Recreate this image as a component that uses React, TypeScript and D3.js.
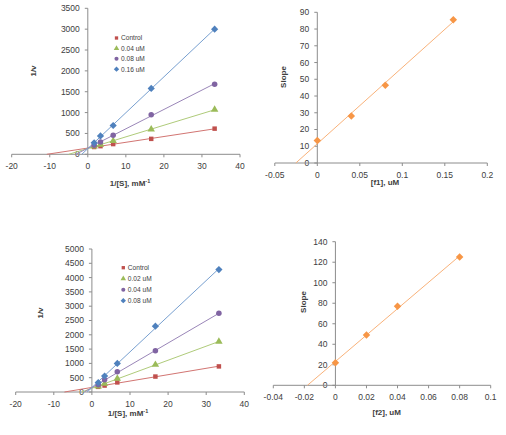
import React from "react";
import * as d3 from "d3";

// ---------- data ----------
const invS = [1.667, 3.333, 6.667, 16.667, 33.333];

const namesA = ["Control", "0.04 uM", "0.08 uM", "0.16 uM"];
const controlA = [175, 195, 245, 370, 615];
const f1_004 = [190, 235, 320, 600, 1070];
const f1_008 = [215, 295, 455, 950, 1680];
const f1_016 = [275, 440, 690, 1580, 3000];

const namesC = ["Control", "0.02 uM", "0.04 uM", "0.08 uM"];
const controlC = [180, 225, 335, 540, 895];
const f2_002 = [200, 290, 470, 955, 1760];
const f2_004 = [250, 430, 705, 1445, 2750];
const f2_008 = [330, 560, 1000, 2300, 4280];

const f1Conc = [0, 0.04, 0.08, 0.16];
const f1Slope = [13.5, 28, 46.5, 85.5];
const f2Conc = [0, 0.02, 0.04, 0.08];
const f2Slope = [22, 49, 77, 125];

const ticksLB = [-20, -10, 0, 10, 20, 30, 40];
const ticksYA = d3.range(0, 3501, 500);
const ticksYC = d3.range(0, 5001, 500);
const ticksXB = [-0.05, 0, 0.05, 0.1, 0.15, 0.2];
const ticksYB = d3.range(0, 91, 10);
const ticksXD = [-0.04, -0.02, 0, 0.02, 0.04, 0.06, 0.08, 0.1];
const ticksYD = d3.range(0, 141, 20);

// ---------- styles ----------
const FONT = "'Liberation Sans', Arial, sans-serif";
const TXT = "#404040";
const AXIS = "#8c8c8c";
type Mark = { color: string; line: string; sym: d3.SymbolType; size: number; rot: number };
const marks: Mark[] = [
  { color: "#C0504D", line: "#D27572", sym: d3.symbolSquare, size: 20, rot: 0 },
  { color: "#9BBB59", line: "#AFCB7A", sym: d3.symbolTriangle, size: 24, rot: 0 },
  { color: "#8064A2", line: "#9A86B8", sym: d3.symbolCircle, size: 24, rot: 0 },
  { color: "#4F81BD", line: "#78A0D0", sym: d3.symbolSquare, size: 26, rot: 45 },
];
const ORANGE: Mark = { color: "#F79646", line: "#F9B27A", sym: d3.symbolSquare, size: 28, rot: 45 };

function linreg(xs: number[], ys: number[]) {
  const mx = d3.mean(xs)!;
  const my = d3.mean(ys)!;
  let sxy = 0, sxx = 0;
  xs.forEach((x, i) => {
    sxy += (x - mx) * (ys[i] - my);
    sxx += (x - mx) * (x - mx);
  });
  const slope = sxy / sxx;
  return { slope, intercept: my - slope * mx };
}

const fmt = (v: number) => String(+v.toFixed(3));

type Series = { name?: string; xs: number[]; ys: number[]; style: Mark };

function Panel(props: {
  xDom: [number, number];
  xRange: [number, number];
  yDom: [number, number];
  yRange: [number, number];
  xTicks: number[];
  yTicks: number[];
  series: Series[];
  xTitle: React.ReactNode;
  xTitlePos: [number, number];
  yTitle: string;
  yTitlePos: [number, number];
  legend?: { x: number; y: number; dy: number };
}) {
  const x = d3.scaleLinear().domain(props.xDom).range(props.xRange);
  const y = d3.scaleLinear().domain(props.yDom).range(props.yRange);
  const x0 = x(0);
  const y0 = y(0);
  return (
    <g fontFamily={FONT}>
      <line x1={x0} x2={x0} y1={y(props.yDom[1])} y2={y0} stroke={AXIS} strokeWidth={1} />
      {props.yTicks.map((t) => (
        <g key={"y" + t}>
          <line x1={x0 - 3} x2={x0} y1={y(t)} y2={y(t)} stroke={AXIS} />
          <text x={x0 - 8} y={y(t)} dy="0.35em" textAnchor="end" fontSize={8.5} fill={TXT}>
            {fmt(t)}
          </text>
        </g>
      ))}
      <line x1={x(props.xDom[0])} x2={x(props.xDom[1])} y1={y0} y2={y0} stroke={AXIS} />
      {props.xTicks.map((t) => (
        <g key={"x" + t}>
          <line x1={x(t)} x2={x(t)} y1={y0} y2={y0 + 3} stroke={AXIS} />
          <text x={x(t)} y={y0 + 14.5} textAnchor="middle" fontSize={8.5} fill={TXT}>
            {fmt(t)}
          </text>
        </g>
      ))}
      {props.series.map((s, i) => {
        const { slope, intercept } = linreg(s.xs, s.ys);
        const xStart = Math.max(-intercept / slope, props.xDom[0]);
        const xEnd = s.xs[s.xs.length - 1];
        return (
          <line
            key={"l" + i}
            x1={x(xStart)}
            y1={y(slope * xStart + intercept)}
            x2={x(xEnd)}
            y2={y(slope * xEnd + intercept)}
            stroke={s.style.line}
            strokeWidth={1}
          />
        );
      })}
      {props.series.map((s, i) => {
        const path = d3.symbol().type(s.style.sym).size(s.style.size)()!;
        return (
          <g key={"m" + i}>
            {s.xs.map((xv, j) => (
              <path
                key={j}
                d={path}
                transform={`translate(${x(xv)},${y(s.ys[j])}) rotate(${s.style.rot})`}
                fill={s.style.color}
              />
            ))}
          </g>
        );
      })}
      {props.legend &&
        props.series.map((s, i) => {
          const path = d3.symbol().type(s.style.sym).size(s.style.size * 0.55)()!;
          const ly = props.legend!.y + i * props.legend!.dy;
          return (
            <g key={"lg" + i}>
              <path
                d={path}
                transform={`translate(${props.legend!.x},${ly}) rotate(${s.style.rot})`}
                fill={s.style.color}
              />
              <text x={props.legend!.x + 4.5} y={ly} dy="0.35em" fontSize={6.6} fill={TXT}>
                {s.name}
              </text>
            </g>
          );
        })}
      <text
        x={props.xTitlePos[0]}
        y={props.xTitlePos[1]}
        textAnchor="middle"
        fontSize={8}
        fontWeight="bold"
        fill={TXT}
      >
        {props.xTitle}
      </text>
      <text
        transform={`translate(${props.yTitlePos[0]},${props.yTitlePos[1]}) rotate(-90)`}
        textAnchor="middle"
        dy="0.35em"
        fontSize={8}
        fontWeight="bold"
        fill={TXT}
      >
        {props.yTitle}
      </text>
    </g>
  );
}

const sTitle = (
  <>
    1/[S], mM
    <tspan fontSize={5.5} dy={-3}>
      -1
    </tspan>
  </>
);

export default function App() {
  const seriesA: Series[] = [controlA, f1_004, f1_008, f1_016].map((ys, i) => ({
    name: namesA[i],
    xs: invS,
    ys,
    style: marks[i],
  }));
  const seriesC: Series[] = [controlC, f2_002, f2_004, f2_008].map((ys, i) => ({
    name: namesC[i],
    xs: invS,
    ys,
    style: marks[i],
  }));
  return (
    <svg
      width={506}
      height={435}
      style={{ position: "absolute", left: 0, top: 0, background: "#fff" }}
    >
      <Panel
        xDom={[-20, 40]}
        xRange={[11.7, 240]}
        yDom={[0, 3500]}
        yRange={[154.3, 8.3]}
        xTicks={ticksLB}
        yTicks={ticksYA}
        series={seriesA}
        xTitle={sTitle}
        xTitlePos={[130, 186]}
        yTitle="1/v"
        yTitlePos={[33, 71]}
        legend={{ x: 116.5, y: 38, dy: 10.4 }}
      />
      <Panel
        xDom={[-0.05, 0.2]}
        xRange={[274.8, 487.3]}
        yDom={[0, 90]}
        yRange={[163, 12.3]}
        xTicks={ticksXB}
        yTicks={ticksYB}
        series={[{ xs: f1Conc, ys: f1Slope, style: ORANGE }]}
        xTitle="[f1], uM"
        xTitlePos={[385, 185]}
        yTitle="Slope"
        yTitlePos={[283, 77]}
      />
      <Panel
        xDom={[-20, 40]}
        xRange={[15.7, 244.3]}
        yDom={[0, 5000]}
        yRange={[392, 249]}
        xTicks={ticksLB}
        yTicks={ticksYC}
        series={seriesC}
        xTitle={sTitle}
        xTitlePos={[128, 415.5]}
        yTitle="1/v"
        yTitlePos={[40, 313]}
        legend={{ x: 123.3, y: 267.7, dy: 11 }}
      />
      <Panel
        xDom={[-0.04, 0.1]}
        xRange={[273.3, 490.7]}
        yDom={[0, 140]}
        yRange={[385.3, 241.7]}
        xTicks={ticksXD}
        yTicks={ticksYD}
        series={[{ xs: f2Conc, ys: f2Slope, style: ORANGE }]}
        xTitle="[f2], uM"
        xTitlePos={[386.7, 414.5]}
        yTitle="Slope"
        yTitlePos={[303, 302]}
      />
    </svg>
  );
}
